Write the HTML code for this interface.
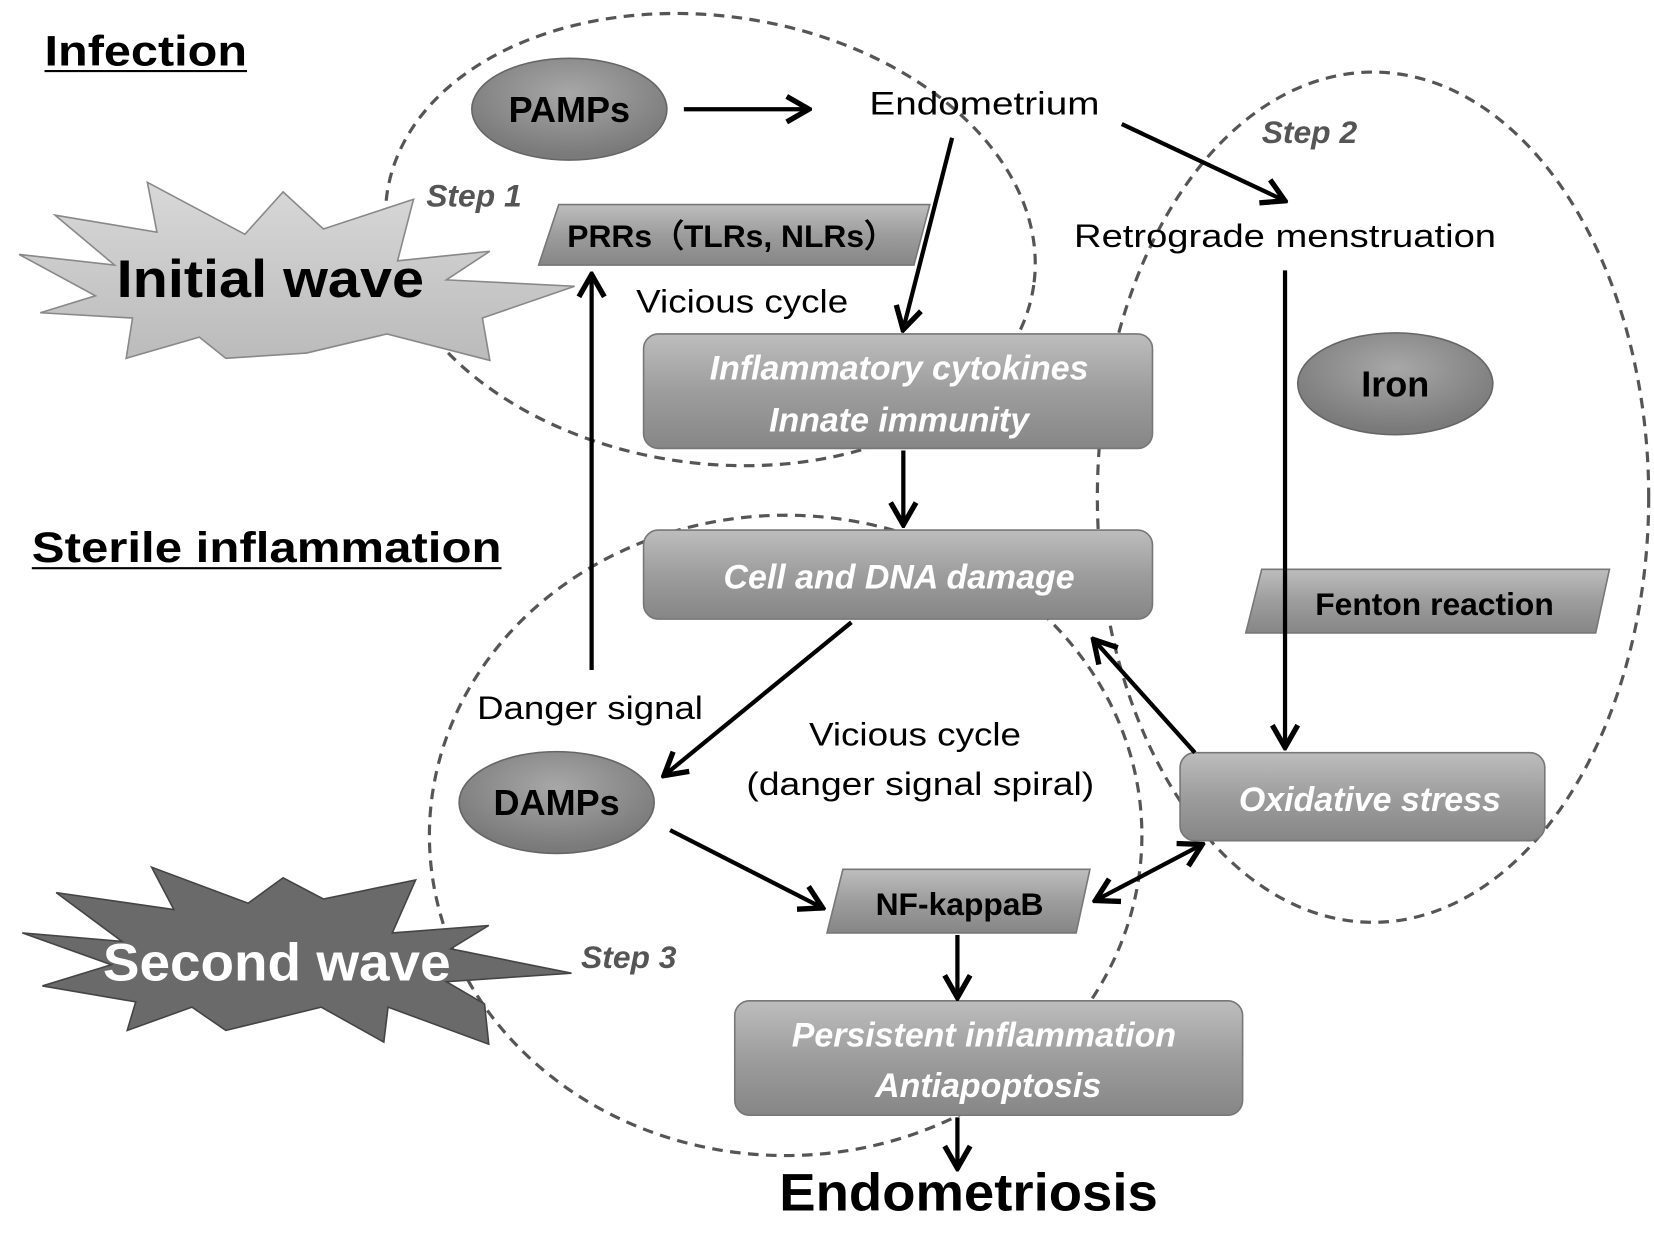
<!DOCTYPE html>
<html><head><meta charset="utf-8"><style>html,body{margin:0;padding:0;background:#fff}svg{display:block}</style></head>
<body>
<svg width="1654" height="1234" viewBox="0 0 1560 1164" preserveAspectRatio="none" xmlns="http://www.w3.org/2000/svg" font-family="Liberation Sans, sans-serif">
<defs>
<linearGradient id="g" x1="0" y1="0" x2="0" y2="1"><stop offset="0" stop-color="#bdbdbd"/><stop offset="0.5" stop-color="#9d9d9d"/><stop offset="1" stop-color="#868686"/></linearGradient>
<radialGradient id="e" cx="0.5" cy="0.35" r="0.6"><stop offset="0" stop-color="#a8a8a8"/><stop offset="1" stop-color="#7a7a7a"/></radialGradient>
<linearGradient id="lw" x1="0" y1="0" x2="0" y2="1"><stop offset="0" stop-color="#d8d8d8"/><stop offset="1" stop-color="#bbbbbb"/></linearGradient>
<marker id="ah" markerWidth="30" markerHeight="30" refX="26" refY="15" orient="auto-start-reverse" markerUnits="userSpaceOnUse"><path d="M6,3 L27,15 L6,27" fill="none" stroke="#000" stroke-width="5"/></marker>
</defs>
<g fill="none" stroke="#555" stroke-width="3" stroke-dasharray="10,7">
<ellipse cx="670" cy="226" rx="308" ry="211" transform="rotate(8 670 226)"/>
<ellipse cx="1295" cy="469" rx="260" ry="401"/>
<ellipse cx="741" cy="788" rx="336" ry="302"/>
</g>
<text x="42" y="62" font-size="40" font-weight="bold" textLength="191" lengthAdjust="spacingAndGlyphs">Infection</text>
<line x1="42" y1="67" x2="233" y2="67" stroke="#000" stroke-width="2"/>
<text x="30" y="530" font-size="40" font-weight="bold" textLength="443" lengthAdjust="spacingAndGlyphs">Sterile inflammation</text>
<line x1="30" y1="536" x2="473" y2="536" stroke="#000" stroke-width="2"/>
<polygon points="52,203 148,219 139,172 231,221 267,181 305,216 390,188 375,246 462,237 421,264 542,270 455,300 462,340 365,315 289,333 213,338 188,318 119,338 125,300 38,295 90,279 18,240 108,250" fill="url(#lw)" stroke="#888" stroke-width="1.5"/>
<text x="110" y="280" font-size="50" font-weight="bold" textLength="290" lengthAdjust="spacingAndGlyphs">Initial wave</text>
<polygon points="21,880 115,888 53,842 164,858 143,818 234,852 267,828 305,848 392,830 370,880 461,873 425,895 539,918 421,926 457,947 461,985 366,950 362,983 303,950 213,972 181,950 120,972 128,945 40,930 105,910" fill="#6a6a6a" stroke="#444" stroke-width="1.5"/>
<text x="97" y="925" font-size="50" font-weight="bold" fill="#fff" textLength="328" lengthAdjust="spacingAndGlyphs">Second wave</text>
<g fill="url(#e)" stroke="#666" stroke-width="1.5">
<ellipse cx="537" cy="103" rx="92" ry="48"/>
<ellipse cx="1316" cy="362" rx="92" ry="48"/>
<ellipse cx="525" cy="757" rx="92" ry="48"/>
</g>
<g font-size="34" font-weight="bold" text-anchor="middle">
<text x="537" y="115">PAMPs</text><text x="1316" y="374">Iron</text><text x="525" y="769">DAMPs</text>
</g>
<g fill="url(#g)" stroke="#777" stroke-width="1.5">
<polygon points="527,193 877,193 862,250 508,250"/>
<polygon points="1190,537 1518,537 1505,597 1175,597"/>
<polygon points="795,820 1028,820 1015,880 780,880"/>
<rect x="607" y="315" width="480" height="108" rx="14"/>
<rect x="607" y="500" width="480" height="84" rx="14"/>
<rect x="1113" y="710" width="344" height="83" rx="14"/>
<rect x="693" y="944" width="479" height="108" rx="14"/>
</g>
<g font-size="30" font-weight="bold" text-anchor="middle">
<text x="690" y="233">PRRs（TLRs, NLRs）</text>
<text x="1353" y="580">Fenton reaction</text>
<text x="905" y="863">NF-kappaB</text>
</g>
<g font-size="32" font-weight="bold" font-style="italic" fill="#fff" text-anchor="middle">
<text x="848" y="358">Inflammatory cytokines</text>
<text x="848" y="407">Innate immunity</text>
<text x="848" y="555">Cell and DNA damage</text>
<text x="1292" y="765">Oxidative stress</text>
<text x="928" y="987">Persistent inflammation</text>
<text x="932" y="1035">Antiapoptosis</text>
</g>
<g font-size="30" font-weight="bold" font-style="italic" fill="#555">
<text x="402" y="195">Step 1</text><text x="1190" y="135">Step 2</text><text x="548" y="913">Step 3</text>
</g>
<g font-size="31">
<text x="820" y="108" textLength="217" lengthAdjust="spacingAndGlyphs">Endometrium</text>
<text x="1013" y="233" textLength="398" lengthAdjust="spacingAndGlyphs">Retrograde menstruation</text>
<text x="600" y="295" textLength="200" lengthAdjust="spacingAndGlyphs">Vicious cycle</text>
<text x="450" y="678" textLength="213" lengthAdjust="spacingAndGlyphs">Danger signal</text>
<text x="763" y="703" textLength="200" lengthAdjust="spacingAndGlyphs">Vicious cycle</text>
<text x="704" y="750" textLength="328" lengthAdjust="spacingAndGlyphs">(danger signal spiral)</text>
</g>
<text x="735" y="1142" font-size="50" font-weight="bold" textLength="357" lengthAdjust="spacingAndGlyphs">Endometriosis</text>
<g stroke="#000" stroke-width="4" fill="none">
<line x1="645" y1="103" x2="762" y2="103" marker-end="url(#ah)"/>
<line x1="898" y1="130" x2="852" y2="310" marker-end="url(#ah)"/>
<line x1="1058" y1="117" x2="1211" y2="189" marker-end="url(#ah)"/>
<line x1="1212" y1="255" x2="1212" y2="704" marker-end="url(#ah)"/>
<line x1="852" y1="425" x2="852" y2="494" marker-end="url(#ah)"/>
<line x1="558" y1="632" x2="558" y2="260" marker-end="url(#ah)"/>
<line x1="803" y1="587" x2="627" y2="731" marker-end="url(#ah)"/>
<line x1="1127" y1="710" x2="1032" y2="604" marker-end="url(#ah)"/>
<line x1="1133" y1="797" x2="1034" y2="849" marker-start="url(#ah)" marker-end="url(#ah)"/>
<line x1="632" y1="783" x2="775" y2="856" marker-end="url(#ah)"/>
<line x1="903" y1="882" x2="903" y2="940" marker-end="url(#ah)"/>
<line x1="903" y1="1054" x2="903" y2="1101" marker-end="url(#ah)"/>
</g>
</svg>
</body></html>
